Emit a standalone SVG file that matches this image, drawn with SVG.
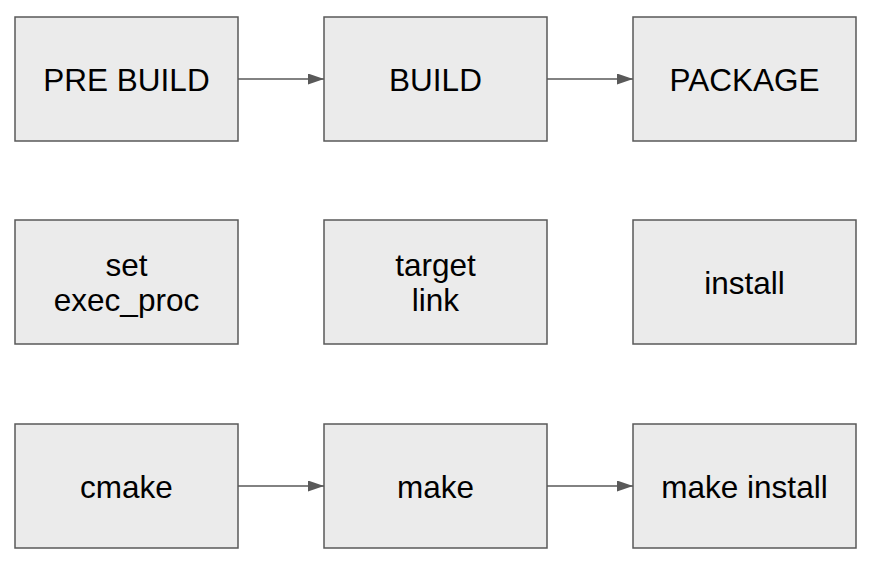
<svg xmlns="http://www.w3.org/2000/svg" width="872" height="566" viewBox="0 0 872 566">
<defs>
<style>
.box{fill:#ebebeb;stroke:#595959;stroke-width:1.5}
.t{font-family:"Liberation Sans",Arial,sans-serif;font-size:31.5px;fill:#000;text-anchor:middle}
.c{stroke:#595959;stroke-width:1.5;fill:none}
</style>
<marker id="ah" markerWidth="16" markerHeight="11" refX="16" refY="5.5" orient="auto" markerUnits="userSpaceOnUse" viewBox="0 0 16 11">
<path d="M0,0 L16,5.5 L0,11 Z" fill="#595959"/>
</marker>
</defs>
<rect width="872" height="566" fill="#fff"/>
<g id="prebuild"><rect class="box" x="15" y="17" width="223" height="124"/><text class="t" x="126.5" y="91">PRE BUILD</text></g>
<g id="build"><rect class="box" x="324" y="17" width="223" height="124"/><text class="t" x="435.5" y="91">BUILD</text></g>
<g id="package"><rect class="box" x="633" y="17" width="223" height="124"/><text class="t" x="744.5" y="91">PACKAGE</text></g>
<g id="setexec"><rect class="box" x="15" y="220" width="223" height="124"/><text class="t" x="126.5" y="276">set</text><text class="t" x="126.5" y="311">exec_proc</text></g>
<g id="targetlink"><rect class="box" x="324" y="220" width="223" height="124"/><text class="t" x="435.5" y="276">target</text><text class="t" x="435.5" y="311">link</text></g>
<g id="install"><rect class="box" x="633" y="220" width="223" height="124"/><text class="t" x="744.5" y="294">install</text></g>
<g id="cmake"><rect class="box" x="15" y="424" width="223" height="124"/><text class="t" x="126.5" y="498">cmake</text></g>
<g id="make"><rect class="box" x="324" y="424" width="223" height="124"/><text class="t" x="435.5" y="498">make</text></g>
<g id="makeinstall"><rect class="box" x="633" y="424" width="223" height="124"/><text class="t" x="744.5" y="498">make install</text></g>
<g id="connectors">
<line class="c" x1="238" y1="79" x2="324" y2="79" marker-end="url(#ah)"/>
<line class="c" x1="547" y1="79" x2="633" y2="79" marker-end="url(#ah)"/>
<line class="c" x1="238" y1="486" x2="324" y2="486" marker-end="url(#ah)"/>
<line class="c" x1="547" y1="486" x2="633" y2="486" marker-end="url(#ah)"/>
</g>
</svg>
